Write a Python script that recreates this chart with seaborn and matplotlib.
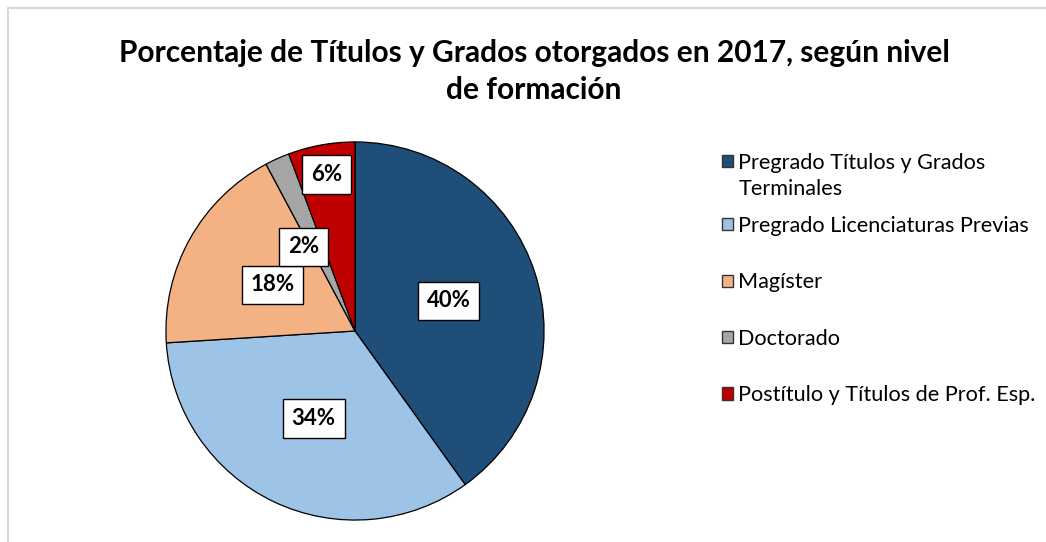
import numpy as np
import matplotlib
matplotlib.use("Agg")
import matplotlib.pyplot as plt
import matplotlib.patches as mpatches
import seaborn as sns

# ---- data ----
categories = [
    "Pregrado Títulos y Grados Terminales",
    "Pregrado Licenciaturas Previas",
    "Magíster",
    "Doctorado",
    "Postítulo y Títulos de Prof. Esp.",
]
values = [40.1, 33.9, 18.2, 2.1, 5.7]
colors = ["#1F4E79", "#9DC3E6", "#F4B183", "#A5A5A5", "#C00000"]
label_dist = [0.52, 0.51, 0.50, 0.52, 0.84]
label_angle_shift = [0, 0, 0, 7, 0]
title = "Porcentaje de Títulos y Grados otorgados en 2017, según nivel\nde formación"

sns.set_theme(style="white")
plt.rcParams["font.family"] = ["Lato", "DejaVu Sans"]
plt.rcParams["text.color"] = "black"

W, H = 1046, 542
fig = plt.figure(figsize=(W / 100, H / 100), dpi=100)
fig.patch.set_facecolor("white")

# chart-area border (light gray, partially cropped)
fig.patches.append(mpatches.Rectangle((8 / W, -0.1), 1.2, 1 - 8 / H + 0.1,
                                      transform=fig.transFigure, fill=False,
                                      edgecolor="#D9D9D9", linewidth=1.5,
                                      clip_on=False))

cx, cy, r = 355, 331, 190
ax = fig.add_axes([(cx - r) / W, (H - cy - r) / H, 2 * r / W, 2 * r / H])
wedges, _ = ax.pie(values, colors=colors, startangle=90, counterclock=False,
                   wedgeprops=dict(edgecolor="black", linewidth=0.9))
ax.set_xlim(-1.005, 1.005)
ax.set_ylim(-1.005, 1.005)
ax.set_aspect("equal")
ax.axis("off")

for w, v, d, s in zip(wedges, values, label_dist, label_angle_shift):
    ang = np.deg2rad((w.theta1 + w.theta2) / 2 + s)
    ax.text(d * np.cos(ang), d * np.sin(ang), f"{v:.0f}%", ha="center", va="center",
            fontsize=16, fontweight="bold", color="black",
            bbox=dict(boxstyle="square,pad=0.4", facecolor="white",
                      edgecolor="black", linewidth=1))

fig.text(534 / W, 1 - 71.5 / H, title, ha="center", va="center", fontsize=21.5,
         fontweight="bold", linespacing=1.4, color="black")

# legend: first entry wraps onto two lines, remaining entries evenly spaced
handles = [mpatches.Patch(facecolor=c, edgecolor="#333333", linewidth=1) for c in colors]
first_words = categories[0].rsplit(" ", 1)
blank = mpatches.Patch(facecolor="none", edgecolor="none")
common = dict(loc="upper left", frameon=False, fontsize=15.6, handlelength=0.5,
              handleheight=0.5, handletextpad=0.25, borderpad=0, borderaxespad=0)
leg1 = fig.legend([handles[0], blank], first_words,
                  bbox_to_anchor=(722 / W, 1 - 153 / H), labelspacing=0.28, **common)
for t in leg1.get_texts():
    t.set_color("black")
leg2 = fig.legend(handles[1:], categories[1:],
                  bbox_to_anchor=(722 / W, 1 - 216 / H), labelspacing=1.68, **common)
for t in leg2.get_texts():
    t.set_color("black")

fig.savefig("out.png", dpi=100, facecolor="white")
